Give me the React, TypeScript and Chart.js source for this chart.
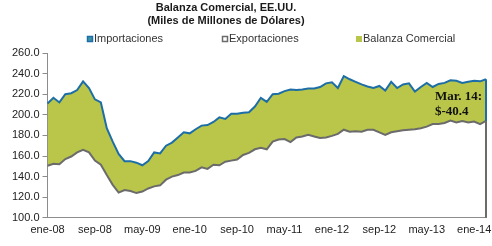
import React, { useEffect, useRef } from "react";
import { Chart, registerables } from "chart.js";

Chart.register(...registerables);

const monthNames = ["ene", "feb", "mar", "abr", "may", "jun", "jul", "ago", "sep", "oct", "nov", "dic"];
const years = ["08", "09", "10", "11", "12", "13", "14"];
const categories: string[] = [];
years.forEach((y) => monthNames.forEach((m) => categories.push(`${m}-${y}`)));
categories.splice(75); // ene-08 .. mar-14

const tickEvery = 8;

const importaciones = [
  211, 216.5, 212, 220, 221, 224, 232.5, 226, 215, 212, 187, 174,
  162, 155, 155, 153.5, 151, 155, 163.5, 162.5, 170, 173, 178, 183,
  182, 186, 189.5, 190, 193, 197.5, 196, 201, 201, 202, 202.5, 208,
  216.5, 212.5, 220, 220.5, 223, 224.5, 224, 224.5, 225.5, 225.5, 227, 230.5,
  231.5, 226, 237.5, 234.5, 232, 229.5, 227.5, 226, 228, 223.5, 232, 226,
  229.5, 230.5, 222.5, 227, 231, 227, 230, 231, 233.5, 233, 231, 232,
  233, 232.5, 234.5,
];

const exportaciones = [
  150.5, 152.5, 152, 157, 159.5, 163.5, 166, 163.5, 155.5, 151.5, 141.5, 132,
  124.5, 127, 126, 124, 125.5, 128.5, 130.5, 131.5, 137, 140, 141.5, 144,
  144, 145.5, 149, 147.5, 151.5, 151, 154.5, 155.5, 156.5, 161, 163, 166.5,
  168, 166.5, 174, 176, 176.5, 173.5, 178, 179, 180.5, 179, 177.5, 178,
  179.5, 181.5, 185.5, 183.5, 184, 183.5, 185.5, 185.5, 183, 180.5, 183, 184,
  185, 185.5, 186, 187, 188.5, 191, 191, 192, 194.5, 192.5, 194, 192.5,
  193.5, 191, 194.1,
];

const yMin = 100;
const yMax = 260;
const yStep = 20;

const titleLines = ["Balanza Comercial, EE.UU.", "(Miles de Millones de Dólares)"];
const legendLabels = ["Importaciones", "Exportaciones", "Balanza Comercial"];
const annotationLabel = "Mar. 14:";

const BLUE = "#1D6EA6";
const GRAY = "#6B6B6B";
const GREEN = "rgb(185,198,73)";
const AXIS = "#8C8C8C";
const FONT = "'Liberation Sans', Arial, sans-serif";

const overlayPlugin = {
  id: "overlay",
  afterDatasetsDraw(chart: any) {
    const { ctx, chartArea } = chart;
    const mImp = chart.getDatasetMeta(0);
    const mExp = chart.getDatasetMeta(1);
    const pImp = mImp.data[mImp.data.length - 1];
    const pExp = mExp.data[mExp.data.length - 1];
    ctx.save();
    ctx.lineWidth = 2;
    ctx.strokeStyle = BLUE;
    ctx.beginPath();
    ctx.moveTo(pImp.x, pImp.y);
    ctx.lineTo(pImp.x, pExp.y);
    ctx.stroke();
    ctx.strokeStyle = GRAY;
    ctx.beginPath();
    ctx.moveTo(pExp.x, pExp.y);
    ctx.lineTo(pExp.x, chartArea.bottom);
    ctx.stroke();
    // annotation
    const bal = exportaciones[exportaciones.length - 1] - importaciones[importaciones.length - 1];
    ctx.fillStyle = "#111";
    ctx.font = "bold 13px 'Liberation Serif', 'Times New Roman', serif";
    ctx.textAlign = "left";
    ctx.textBaseline = "middle";
    const ax = pImp.x - 51;
    ctx.fillText(annotationLabel, ax, pImp.y + 17);
    ctx.fillText(`$${bal.toFixed(1)}`, ax, pImp.y + 32);
    ctx.restore();
  },
  afterDraw(chart: any) {
    const { ctx } = chart;
    ctx.save();
    ctx.fillStyle = "#1a1a1a";
    ctx.font = `bold 11px ${FONT}`;
    ctx.textAlign = "center";
    ctx.textBaseline = "middle";
    ctx.fillText(titleLines[0], 226, 8);
    ctx.fillText(titleLines[1], 226, 21);
    // legend
    ctx.font = `11px ${FONT}`;
    ctx.textAlign = "left";
    const ly = 39;
    const items = [
      { x: 87, label: legendLabels[0], fill: "#3E95A8", stroke: BLUE },
      { x: 222, label: legendLabels[1], fill: "#ffffff", stroke: GRAY },
      { x: 356, label: legendLabels[2], fill: GREEN, stroke: null },
    ];
    items.forEach((it) => {
      ctx.fillStyle = it.fill;
      ctx.fillRect(it.x, ly - 3, 6, 6);
      if (it.stroke) {
        ctx.strokeStyle = it.stroke;
        ctx.lineWidth = 1.5;
        ctx.strokeRect(it.x + 0.5, ly - 2.5, 5, 5);
      }
      ctx.fillStyle = "#333";
      ctx.fillText(it.label, it.x + 7, ly);
    });
    ctx.restore();
  },
};

export default function App() {
  const ref = useRef<HTMLCanvasElement>(null);
  useEffect(() => {
    if (!ref.current) return;
    const chart = new Chart(ref.current, {
      type: "line",
      data: {
        labels: categories,
        datasets: [
          {
            label: legendLabels[0],
            data: importaciones,
            borderColor: BLUE,
            borderWidth: 2,
            pointRadius: 0,
            tension: 0,
            fill: { target: 1, above: GREEN, below: GREEN },
            backgroundColor: GREEN,
          },
          {
            label: legendLabels[1],
            data: exportaciones,
            borderColor: GRAY,
            borderWidth: 2,
            pointRadius: 0,
            tension: 0,
            fill: false,
          },
        ],
      },
      options: {
        responsive: false,
        animation: false,
        layout: { padding: { top: 53, left: 9, right: 6, bottom: 3 } },
        plugins: {
          legend: { display: false },
          title: { display: false },
          tooltip: { enabled: false },
          filler: { drawTime: "beforeDatasetsDraw" } as any,
        },
        scales: {
          x: {
            type: "category",
            offset: false,
            grid: { display: false, drawTicks: false },
            border: { display: true, color: AXIS, width: 1 },
            ticks: {
              autoSkip: false,
              maxRotation: 0,
              minRotation: 0,
              padding: 6,
              color: "#222",
              font: { family: FONT, size: 11 },
              callback: (_v: any, i: number) => (i % tickEvery === 0 ? categories[i] : ""),
            },
          },
          y: {
            min: yMin,
            max: yMax,
            grid: { display: true, drawOnChartArea: false, drawTicks: true, tickLength: 5, color: AXIS },
            border: { display: true, color: AXIS, width: 1 },
            ticks: {
              stepSize: yStep,
              padding: 3,
              color: "#222",
              font: { family: FONT, size: 11 },
              callback: (v: any) => Number(v).toFixed(1),
            },
          },
        },
      },
      plugins: [overlayPlugin],
    });
    return () => chart.destroy();
  }, []);
  return (
    <div style={{ position: "absolute", left: 0, top: 0, width: 492, height: 246, background: "#fff" }}>
      <canvas ref={ref} width={492} height={246} style={{ display: "block" }} />
    </div>
  );
}
